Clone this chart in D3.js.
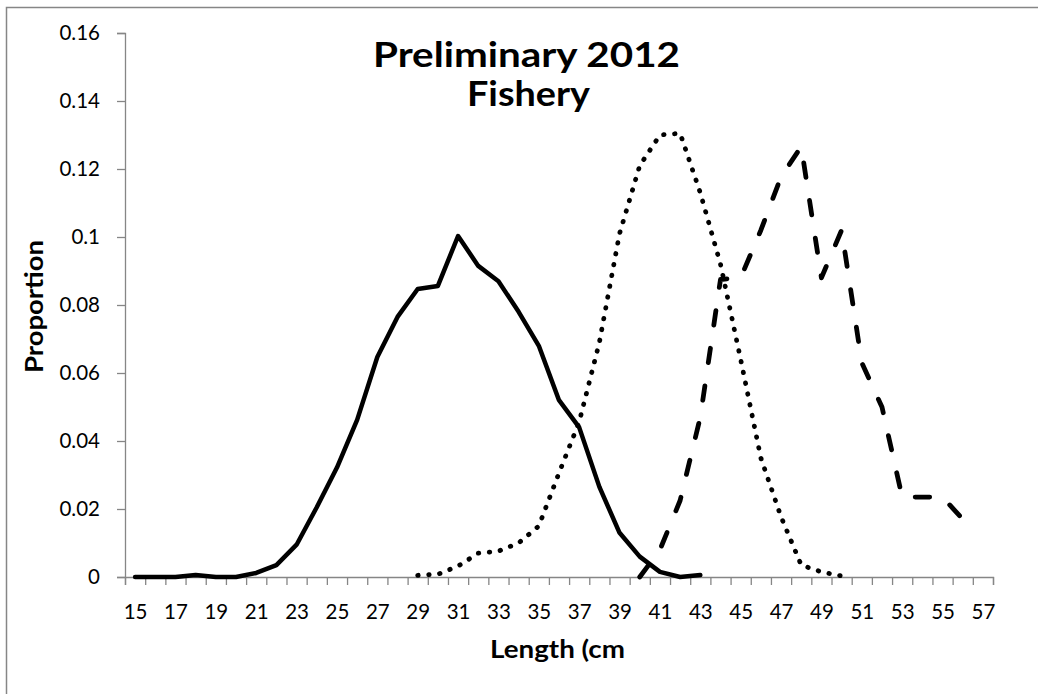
<!doctype html>
<html>
<head>
    <script src="https://d3js.org/d3.v7.min.js"></script>
</head>
<style>
    body { margin: 0; background: #fff; }
    svg text { font-family: Lato, "Open Sans", sans-serif; fill: #000; }
    .axis path, .axis line { stroke: #868686; stroke-width: 1.3; }
</style>
<body>
<script>
    // length classes (cm) shown on the x axis
    var lengths = [15,16,17,18,19,20,21,22,23,24,25,26,27,28,29,30,31,32,33,34,35,36,
                   37,38,39,40,41,42,43,44,45,46,47,48,49,50,51,52,53,54,55,56,57];
    var xLabels = [15,17,19,21,23,25,27,29,31,33,35,37,39,41,43,45,47,49,51,53,55,57];
    var yTicks = [0, 0.02, 0.04, 0.06, 0.08, 0.1, 0.12, 0.14, 0.16];

    // solid series
    var solidLen = [15,16,17,18,19,20,21,22,23,24,25,26,27,28,29,30,31,32,33,34,35,36,37,38,39,40,41,42,43];
    var solidVal = [0, 0, 0, 0.0006, 0, 0, 0.0012, 0.0035, 0.0095, 0.0205, 0.0322, 0.0462, 0.0647, 0.0765,
                    0.0847, 0.0856, 0.1003, 0.0915, 0.087, 0.078, 0.068, 0.052, 0.044, 0.0265, 0.013,
                    0.006, 0.0015, 0, 0.0006];

    // dotted series
    var dotLen = [29,30,31,32,33,34,35,36,37,38,39,40,41,42,43,44,45,46,47,48,49,50];
    var dotVal = [0.0005, 0.0008, 0.0032, 0.007, 0.0076, 0.010, 0.015, 0.0306, 0.0456, 0.069, 0.101,
                  0.121, 0.130, 0.1305, 0.113, 0.092, 0.064, 0.035, 0.0177, 0.0035, 0.0015, 0.0003];

    // dashed series
    var dashLen = [40,41,42,43,44,45,46,47,48,49,50,51,52,53,54,55,56];
    var dashVal = [0, 0.008, 0.0225, 0.047, 0.0875, 0.088, 0.102, 0.1177, 0.1266, 0.088, 0.102,
                   0.063, 0.050, 0.0235, 0.0235, 0.0235, 0.017];

    var width = 1038, height = 694;
    var plot = {left: 125, right: 993, top: 33, bottom: 577};

    var svg = d3.select("body").append("svg")
        .attr("width", width)
        .attr("height", height);

    // chart frame (runs off the right and bottom edge)
    svg.append("rect")
        .attr("x", 6.5).attr("y", 7.5)
        .attr("width", width + 20).attr("height", height + 20)
        .attr("fill", "none")
        .attr("stroke", "#868686")
        .attr("stroke-width", 1.5);

    var x = d3.scaleLinear()
        .domain([d3.min(lengths) - 0.5, d3.max(lengths) + 0.5])
        .range([plot.left, plot.right]);

    var y = d3.scaleLinear()
        .domain([0, 0.16])
        .range([plot.bottom, plot.top]);

    // y axis
    svg.append("g")
        .attr("class", "axis")
        .attr("transform", "translate(" + plot.left + ",0)")
        .call(d3.axisLeft(y).tickValues(yTicks).tickSize(8).tickPadding(17)
            .tickFormat(function(d) { return String(+d.toFixed(2)); }))
        .call(function(g) {
            g.selectAll("text").attr("font-size", 20.5).attr("font-family", "Lato");
        });

    // x axis tick marks between categories
    var boundaries = lengths.map(function(d) { return d - 0.5; }).concat([d3.max(lengths) + 0.5]);
    svg.append("g")
        .attr("class", "axis")
        .attr("transform", "translate(0," + plot.bottom + ")")
        .call(d3.axisBottom(x).tickValues(boundaries).tickSize(8).tickFormat(""));

    // x axis labels
    svg.append("g")
        .attr("class", "axis")
        .attr("transform", "translate(0," + plot.bottom + ")")
        .call(d3.axisBottom(x).tickValues(xLabels).tickSize(0).tickPadding(27)
            .tickFormat(d3.format("d")))
        .call(function(g) {
            g.select(".domain").remove();
            g.selectAll("text").attr("font-size", 20.5).attr("font-family", "Lato");
        });

    var line = d3.line()
        .x(function(d) { return x(d[0]); })
        .y(function(d) { return y(d[1]); });

    svg.append("path")
        .datum(d3.zip(solidLen, solidVal))
        .attr("d", line)
        .attr("fill", "none")
        .attr("stroke", "#000")
        .attr("stroke-width", 4.5)
        .attr("stroke-linejoin", "round")
        .attr("stroke-linecap", "round");

    svg.append("path")
        .datum(d3.zip(dotLen, dotVal))
        .attr("d", line)
        .attr("fill", "none")
        .attr("stroke", "#000")
        .attr("stroke-width", 4.8)
        .attr("stroke-dasharray", "0.5 10.5")
        .attr("stroke-linecap", "round");

    svg.append("path")
        .datum(d3.zip(dashLen, dashVal))
        .attr("d", line)
        .attr("fill", "none")
        .attr("stroke", "#000")
        .attr("stroke-width", 4.8)
        .attr("stroke-dasharray", "14.5 23.5")
        .attr("stroke-linejoin", "round")
        .attr("stroke-linecap", "round");

    // title
    var title = svg.append("g")
        .attr("font-weight", "bold")
        .attr("font-size", 35);
    title.append("text").attr("x", 373).attr("y", 67)
        .attr("textLength", 307).attr("lengthAdjust", "spacingAndGlyphs")
        .text("Preliminary 2012");
    title.append("text").attr("x", 467).attr("y", 106)
        .attr("textLength", 123).attr("lengthAdjust", "spacingAndGlyphs")
        .text("Fishery");

    // axis titles
    svg.append("text")
        .attr("x", 490)
        .attr("y", 658)
        .attr("font-weight", "bold")
        .attr("font-size", 24)
        .attr("textLength", 135).attr("lengthAdjust", "spacingAndGlyphs")
        .text("Length (cm");

    svg.append("text")
        .attr("transform", "translate(43,373) rotate(-90)")
        .attr("font-weight", "bold")
        .attr("font-size", 24)
        .attr("textLength", 133).attr("lengthAdjust", "spacingAndGlyphs")
        .text("Proportion");
</script>
</body>
</html>
